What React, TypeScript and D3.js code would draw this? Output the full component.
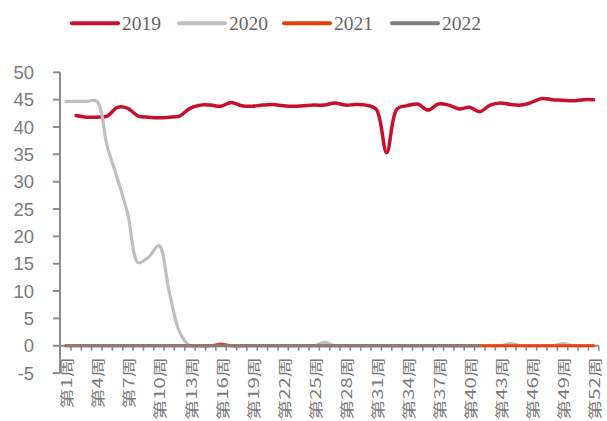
import React from "react";
import * as d3 from "d3";

const weeks = [
  "第1周","第2周","第3周","第4周","第5周","第6周","第7周","第8周","第9周","第10周",
  "第11周","第12周","第13周","第14周","第15周","第16周","第17周","第18周","第19周","第20周",
  "第21周","第22周","第23周","第24周","第25周","第26周","第27周","第28周","第29周","第30周",
  "第31周","第32周","第33周","第34周","第35周","第36周","第37周","第38周","第39周","第40周",
  "第41周","第42周","第43周","第44周","第45周","第46周","第47周","第48周","第49周","第50周",
  "第51周","第52周",
];

const labelWeeks = ["第1周","第4周","第7周","第10周","第13周","第16周","第19周","第22周","第25周","第28周","第31周","第34周","第37周","第40周","第43周","第46周","第49周","第52周"];

const yTicks = [-5, 0, 5, 10, 15, 20, 25, 30, 35, 40, 45, 50];

const s2019: (number | null)[] = [
  null, 42.1, 41.8, 41.8, 42.0, 43.6, 43.4, 42.0, 41.8, 41.7,
  41.8, 42.0, 43.4, 44.0, 44.0, 43.8, 44.5, 43.9, 43.8, 44.0,
  44.1, 43.9, 43.8, 43.9, 44.0, 44.0, 44.4, 44.0, 44.1, 44.0,
  43.2, 35.3, 43.3, 43.9, 44.2, 43.1, 44.2, 44.0, 43.3, 43.6,
  42.8, 44.0, 44.4, 44.1, 44.0, 44.5, 45.2, 45.0, 44.9, 44.8,
  45.0, 45.0,
];

const s2020: (number | null)[] = [
  44.7, 44.7, 44.7, 44.7, 36.5, 30.5, 24.0, 15.2, 16.2, 18.3,
  9.8, 2.5, 0, 0, 0, 0, 0, 0, 0, 0,
  0, 0, 0, 0, 0, 0.6, 0, 0, 0, 0,
  0, 0, 0, 0, 0, 0, 0, 0, 0, 0,
  0, 0, 0, 0.4, 0, 0, 0, 0, 0.4, 0,
  0, 0,
];

const s2021: (number | null)[] = [
  0, 0, 0, 0, 0, 0, 0, 0, 0, 0,
  0, 0, 0, 0, 0, 0.3, 0, 0, 0, 0,
  0, 0, 0, 0, 0, 0, 0, 0, 0, 0,
  0, 0, 0, 0, 0, 0, 0, 0, 0, 0,
  0, 0, 0, 0, 0, 0, 0, 0, 0, 0,
  0, 0,
];

const s2022: (number | null)[] = [
  0, 0, 0, 0, 0, 0, 0, 0, 0, 0,
  0, 0, 0, 0, 0, 0, 0, 0, 0, 0,
  0, 0, 0, 0, 0, 0, 0, 0, 0, 0,
  0, 0, 0, 0, 0, 0, 0, 0, 0, 0,
  0, null, null, null, null, null, null, null, null, null,
  null, null,
];

const seriesNames = ["2019", "2020", "2021", "2022"];
const seriesData = [s2019, s2020, s2021, s2022];
const seriesColors = ["#C8102E", "#BFBFBF", "#E8400C", "#7F7F7F"];
const seriesWidths = [3.5, 3.2, 3.2, 3.2];

export default function App() {
  const W = 607, H = 421;
  const x = d3.scaleBand<string>().domain(weeks).range([60.6, 598.8]).padding(0);
  const y = d3.scaleLinear().domain([-5, 50]).range([373.1, 72.3]);
  const cx = (w: string) => (x(w) as number) + x.bandwidth() / 2;

  const line = d3
    .line<number | null>()
    .defined((d) => d !== null)
    .x((_, i) => cx(weeks[i]))
    .y((d) => y(d as number))
    .curve(d3.curveCatmullRom.alpha(0.5));

  const axisColor = "#8C8C8C";
  const y0 = y(0);
  const legendX = [72, 179, 284, 392];

  return (
    <svg width={W} height={H} style={{ position: "absolute", left: 0, top: 0, background: "#fff" }}>
      <rect x={0} y={0} width={W} height={H} fill="#fff" />
      {/* legend */}
      {seriesNames.map((n, i) => (
        <g key={n}>
          <line x1={legendX[i]} x2={legendX[i] + 46} y1={23.3} y2={23.3} stroke={seriesColors[i]} strokeWidth={4} strokeLinecap="round" />
          <text x={legendX[i] + 50} y={30} fontFamily="'Liberation Serif', 'DejaVu Serif', serif" fontSize={19.5} fill="#666666">{n}</text>
        </g>
      ))}
      {/* y axis */}
      <line x1={60} x2={60} y1={y(50)} y2={y(-5)} stroke={axisColor} strokeWidth={2} />
      {yTicks.map((t) => (
        <g key={t}>
          <line x1={53} x2={60} y1={y(t)} y2={y(t)} stroke={axisColor} strokeWidth={2} />
          <text x={34} y={y(t)} dy="0.36em" textAnchor="end" fontFamily="'Liberation Sans', Arial, sans-serif" fontSize={18.5} fill="#7A7A7A">{t}</text>
        </g>
      ))}
      {/* x axis */}
      <line x1={60} x2={598.8} y1={y0} y2={y0} stroke={axisColor} strokeWidth={2} />
      {weeks.map((w) => (
        <line key={w} x1={(x(w) as number) + x.bandwidth()} x2={(x(w) as number) + x.bandwidth()} y1={y0} y2={y0 + 5} stroke={axisColor} strokeWidth={1.6} />
      ))}
      {labelWeeks.map((w) => (
        <text
          key={w}
          transform={`translate(${cx(w) + 1.5},357) rotate(-90) scale(1.45,1)`}
          textAnchor="end"
          dy="0.36em"
          fontFamily="'Noto Sans CJK SC', sans-serif"
          fontSize={14}
          fill="#7A7A7A"
        >
          {w}
        </text>
      ))}
      {/* series */}
      {seriesData.map((s, i) => (
        <path key={seriesNames[i]} d={line(s) || ""} fill="none" stroke={seriesColors[i]} strokeWidth={seriesWidths[i]} strokeLinejoin="round" strokeLinecap="round" />
      ))}
    </svg>
  );
}
